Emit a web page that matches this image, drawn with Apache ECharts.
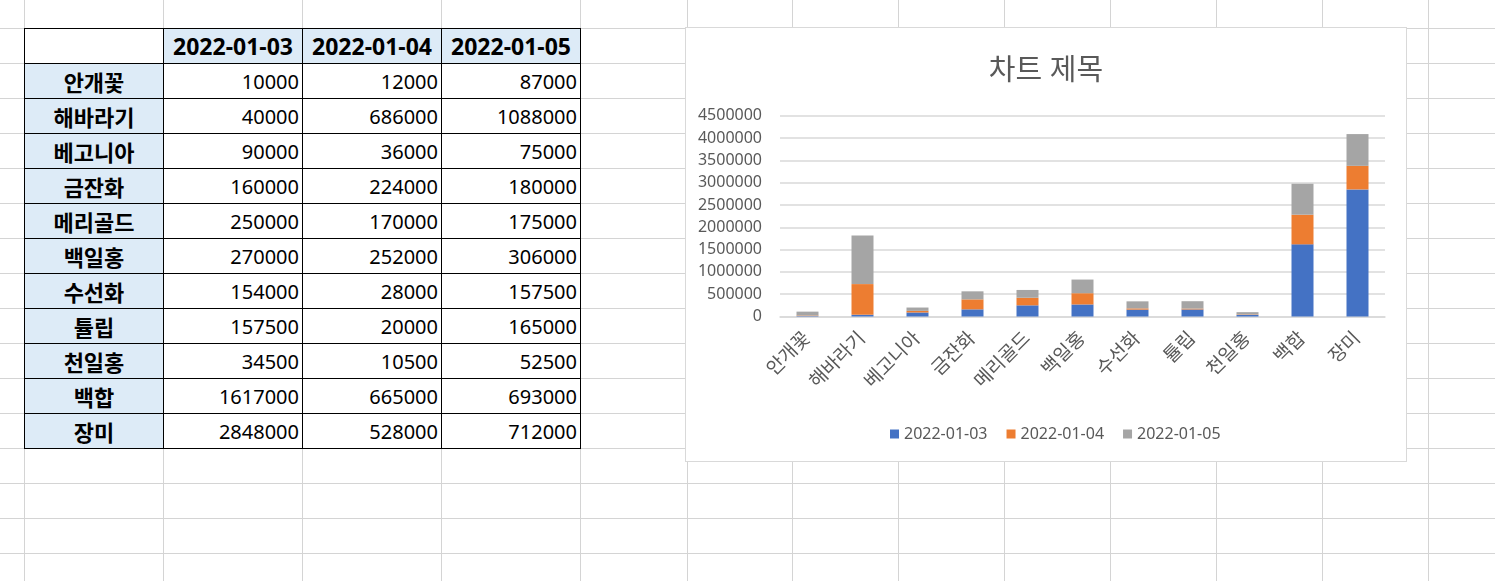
<!DOCTYPE html>
<html>
<head>
<meta charset="utf-8">
<script src="https://cdn.jsdelivr.net/npm/echarts@6/dist/echarts.min.js"></script>
<style>
  html, body { margin: 0; padding: 0; background: #fff; }
  body { width: 1495px; height: 581px; position: relative; overflow: hidden;
         font-family: 'Noto Sans', 'Noto Sans CJK KR', sans-serif; }
  .gl { position: absolute; background: #d4d4d4; }
  .cell { position: absolute; box-sizing: border-box; border: 1px solid #000;
          display: flex; align-items: center; color: #000; }
  #chartBox { position: absolute; left: 686px; top: 28px; width: 720px; height: 433px;
              background: #fff; }
  #chartBorder { position: absolute; left: 685px; top: 27px; width: 720px; height: 433px;
                 border: 1.5px solid #d9d9d9; pointer-events: none; }
</style>
</head>
<body>
<div id="sheet"></div>
<div id="chartBox"></div>
<div id="chartBorder"></div>
<script>
// ---- data ----
const categories = ['안개꽃', '해바라기', '베고니아', '금잔화', '메리골드', '백일홍', '수선화', '튤립', '천일홍', '백합', '장미'];
const seriesNames = ['2022-01-03', '2022-01-04', '2022-01-05'];
const values0103 = [10000, 40000, 90000, 160000, 250000, 270000, 154000, 157500, 34500, 1617000, 2848000];
const values0104 = [12000, 686000, 36000, 224000, 170000, 252000, 28000, 20000, 10500, 665000, 528000];
const values0105 = [87000, 1088000, 75000, 180000, 175000, 306000, 157500, 165000, 52500, 693000, 712000];
const chartTitle = '차트 제목';
const yMin = 0, yMax = 4500000, yStep = 500000;

// ---- spreadsheet grid ----
const sheet = document.getElementById('sheet');
const colLines = [24, 163, 302, 441, 580, 686.5, 792, 898, 1004, 1110, 1216, 1322, 1428];
for (const x of colLines) {
  const d = document.createElement('div');
  d.className = 'gl';
  d.style.cssText = `left:${x}px;top:0;width:1px;height:581px;`;
  sheet.appendChild(d);
}
for (let y = -7; y < 581; y += 35) {
  const d = document.createElement('div');
  d.className = 'gl';
  d.style.cssText = `left:0;top:${y}px;width:1495px;height:1px;`;
  sheet.appendChild(d);
}

// ---- table ----
const allSeries = [values0103, values0104, values0105];
function addCell(col, row, text, opts) {
  const d = document.createElement('div');
  d.className = 'cell';
  d.style.left = (24 + col * 139) + 'px';
  d.style.top = (28 + row * 35) + 'px';
  d.style.width = '140px';
  d.style.height = '36px';
  d.style.background = opts.bg || '#fff';
  d.style.fontSize = opts.size + 'px';
  d.style.fontWeight = opts.bold ? '700' : '400';
  d.style.justifyContent = opts.align;
  if (opts.align === 'flex-end') d.style.paddingRight = '3px';
  d.textContent = text;
  sheet.appendChild(d);
}
addCell(0, 0, '', { align: 'center', size: 22 });
seriesNames.forEach((n, i) => addCell(i + 1, 0, n, { bg: '#ddebf7', bold: true, size: 23, align: 'center' }));
categories.forEach((c, r) => {
  addCell(0, r + 1, c, { bg: '#ddebf7', bold: true, size: 22, align: 'center' });
  allSeries.forEach((s, i) => addCell(i + 1, r + 1, String(s[r]), { size: 20, align: 'flex-end' }));
});

// ---- chart ----
const font = "'Noto Sans', 'Noto Sans CJK KR', sans-serif";
const colors = ['#4472c4', '#ed7d31', '#a5a5a5'];
const chart = echarts.init(document.getElementById('chartBox'), null, { renderer: 'canvas' });
chart.setOption({
  animation: false,
  backgroundColor: '#fff',
  color: colors,
  title: {
    text: chartTitle, left: 'center', top: 22,
    textStyle: { fontFamily: font, fontSize: 29, fontWeight: 'normal', color: '#595959', lineHeight: 34 }
  },
  legend: {
    data: seriesNames, left: 199, top: 393, itemWidth: 9, itemHeight: 9, itemGap: 19,
    icon: 'rect',
    textStyle: { fontFamily: font, fontSize: 16, color: '#595959' }
  },
  grid: { left: 94, right: 21, top: 87.7, bottom: 144.5, containLabel: false },
  xAxis: {
    type: 'category', data: categories,
    axisLine: { show: true, lineStyle: { color: '#d9d9d9', width: 1.5 } },
    axisTick: { show: false },
    axisLabel: { rotate: 45, margin: 19, interval: 0, fontFamily: font, fontSize: 19, color: '#595959' }
  },
  yAxis: {
    type: 'value', min: yMin, max: yMax, interval: yStep,
    axisLine: { show: false }, axisTick: { show: false },
    splitLine: { lineStyle: { color: '#d9d9d9', width: 1.5 } },
    axisLabel: { margin: 18, fontFamily: font, fontSize: 16, color: '#595959',
                 formatter: v => String(v) }
  },
  series: seriesNames.map((n, i) => ({
    name: n, type: 'bar', stack: 'total', data: allSeries[i], barWidth: '40%'
  }))
});
</script>
</body>
</html>
